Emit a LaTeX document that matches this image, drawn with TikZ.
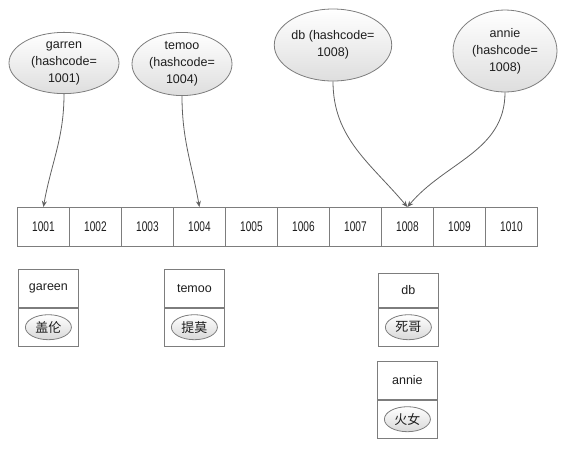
\documentclass[tikz,border=0pt]{standalone}
\usepackage{fontspec}
\setmainfont{Liberation Sans}
\newfontfamily\cjk{Noto Sans CJK SC}
\newfontfamily\narrowdigits[FakeStretch=0.72]{Liberation Sans}
\usetikzlibrary{shapes.geometric, positioning, arrows.meta}
\definecolor{linegray}{RGB}{125,125,125}
\definecolor{textdark}{RGB}{30,30,30}

\begin{document}
\begin{tikzpicture}[x=1pt, y=1pt, line width=0.8pt,
  font=\fontsize{12.5}{17}\selectfont, text=textdark,
  keybubble/.style={ellipse, draw=linegray, top color=white, bottom color=black!13, align=center, inner sep=0pt},
  cell/.style={draw=linegray, minimum width=52pt, minimum height=39pt, inner sep=0pt, anchor=north west, font=\fontsize{14}{16}\narrowdigits},
  namebox/.style={draw=linegray, minimum width=60pt, inner sep=0pt, anchor=north west},
  valbubble/.style={ellipse, draw=linegray, top color=white, bottom color=black!15, minimum width=46pt, minimum height=25pt, inner sep=0pt, font=\fontsize{13}{15}\cjk},
  link/.style={draw=black!62, -{Stealth[length=6pt, width=5pt]}}]
\useasboundingbox (0,0) rectangle (567,-451);

% keys with their hashcodes
\node[keybubble, minimum width=110pt, minimum height=60pt] (garren) at (64,-63) {garren\\(hashcode=\\1001)};
\node[keybubble, minimum width=100pt, minimum height=56pt] (temoo) at (182,-64) {temoo\\(hashcode=\\1004)};
\node[keybubble, minimum width=104pt, minimum height=72pt] (db) at (333,-45) {db (hashcode=\\1008)};
\node[keybubble, minimum width=104pt, minimum height=82pt] (annie) at (505,-51) {annie\\(hashcode=\\1008)};

% the table
\foreach \i in {1,...,10} {
  \pgfmathtruncatemacro\code{1000+\i}
  \node[cell] (c\code) at ({17+52*(\i-1)},-207) {\code};
}

\draw[link] (garren.south) to[out=-90, in=80] (c1001.north);
\draw[link] (temoo.south) to[out=-90, in=100] (c1004.north);
\draw[link] (db.south) to[out=-90, in=130] (c1008.north);
\draw[link] (annie.south) to[out=-90, in=50] (c1008.north);

% entries
\node[namebox, minimum height=38pt] (gareenkey) at (18,-269) {gareen};
\node[namebox, minimum height=38pt, below=0pt of gareenkey] (gareenval) {};
\node[valbubble] (gareenname) at (gareenval) {盖伦};

\node[namebox, minimum height=38pt] (temookey) at (164,-269) {temoo};
\node[namebox, minimum height=38pt, below=0pt of temookey] (temooval) {};
\node[valbubble] (temooname) at (temooval) {提莫};

\node[namebox, minimum height=34pt] (dbkey) at (378,-273) {db};
\node[namebox, minimum height=38pt, below=0pt of dbkey] (dbval) {};
\node[valbubble] (dbname) at (dbval) {死哥};

\node[namebox, minimum height=38pt] (anniekey) at (377,-361) {annie};
\node[namebox, minimum height=38pt, below=0pt of anniekey] (annieval) {};
\node[valbubble] (anniename) at (annieval) {火女};
\end{tikzpicture}
\end{document}
